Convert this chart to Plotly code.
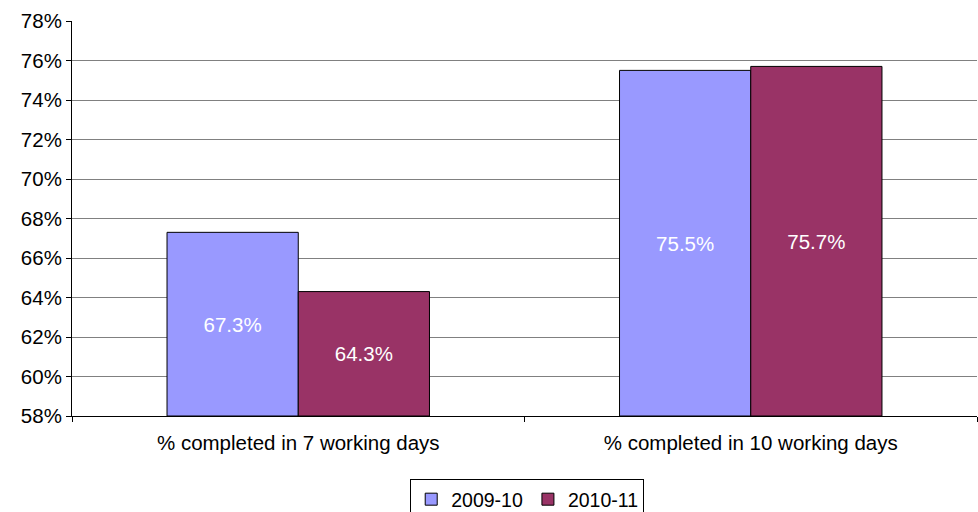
import plotly.graph_objects as go

categories = ["% completed in 7 working days", "% completed in 10 working days"]
series_names = ["2009-10", "2010-11"]
values_2009 = [67.3, 75.5]
values_2010 = [64.3, 75.7]
colors = ["#9999FF", "#993366"]
y_ticks = [58, 60, 62, 64, 66, 68, 70, 72, 74, 76, 78]
axis_min = 58

FONT = "Liberation Sans, Arial"
FS = 20.5

fig = go.Figure()
for name, vals, col in zip(series_names, [values_2009, values_2010], colors):
    fig.add_trace(go.Bar(
        x=categories, y=[v - axis_min for v in vals], base=axis_min, name=name,
        marker=dict(color=col, line=dict(color="black", width=1)),
        text=[f"{v:.1f}%" for v in vals],
        textposition="inside", insidetextanchor="middle",
        textfont=dict(color="white", size=FS, family=FONT),
        textangle=0,
    ))

fig.update_layout(
    width=978, height=512,
    margin=dict(l=72, r=1, t=21, b=96, autoexpand=False),
    barmode="group", bargap=0.42, bargroupgap=0,
    plot_bgcolor="white", paper_bgcolor="white",
    font=dict(family=FONT, size=FS, color="black"),
    showlegend=True,
    legend=dict(orientation="h", x=0.503, xref="paper", xanchor="center",
                y=(512 - 479) / 512, yref="container", yanchor="top",
                bordercolor="black", borderwidth=1, font=dict(size=19.5),
                itemwidth=30, traceorder="normal", tracegroupgap=0),
    uniformtext=dict(minsize=8, mode=False),
)
fig.update_yaxes(
    range=[58, 78], tickvals=y_ticks, ticktext=[f"{t}%" for t in y_ticks],
    showgrid=True, gridcolor="#808080", gridwidth=1,
    showline=True, linecolor="black", linewidth=1,
    ticks="outside", ticklen=5, tickcolor="black",
    zeroline=False, tickfont=dict(size=FS),
)
fig.update_xaxes(
    showline=True, linecolor="black", linewidth=1,
    ticks="outside", ticklen=5, tickcolor="black", tickson="boundaries",
    tickfont=dict(size=FS), ticklabelstandoff=8,
)
fig.write_html("out.html")
